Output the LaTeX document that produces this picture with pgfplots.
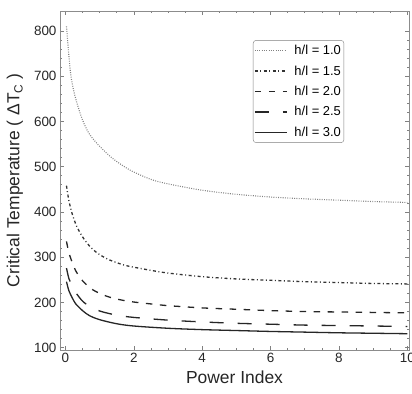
\documentclass[border=0pt]{standalone}
\usepackage{fontspec}
\setmainfont{Liberation Sans}
\usepackage{pgfplots}
\pgfplotsset{compat=1.18}
\begin{document}
\begin{tikzpicture}
\begin{axis}[
  name=ax,
  scale only axis,
  width=349bp, height=339bp,
  xmin=-0.16, xmax=10.05,
  ymin=95, ymax=844,
  xtick={0,2,4,6,8,10},
  ytick={100,200,...,800},
  minor x tick num=3,
  minor y tick num=4,
  major tick length=4bp,
  minor tick length=2.2bp,
  tick style={gray, line width=0.6bp},
  axis line style={gray!90, line width=0.8bp},
  /pgf/number format/assume math mode=true,
  ticklabel style={font=\fontsize{13.5}{14}\selectfont, text=black!85},
  xlabel={Power Index},
  ylabel={Critical Temperature ( ΔT\raisebox{-0.35ex}{\fontsize{12}{12}\selectfont C} )},
  label style={font=\fontsize{17.5}{19}\selectfont, text=black!85},
  xlabel style={at={(axis description cs:0.5,-0.08)}, anchor=center},
  ylabel style={at={(axis description cs:-0.129,0.5)}, anchor=center},
  legend style={at={(axis description cs:0.553,0.914)}, anchor=north west, draw=gray, rounded corners=3bp, font=\fontsize{13}{14}\selectfont, row sep=5.5bp, inner xsep=1bp, inner ysep=3bp},
  legend cell align=left,
  legend image code/.code={\draw[#1] (0bp,0bp) -- (32bp,0bp); \path (37bp,0bp);},
]
\addplot[smooth, color=black!50, line width=1.1bp, dash pattern=on 0.9bp off 1.4bp] coordinates {
(0.03,810) (0.1,745) (0.16,700) (0.25,665) (0.35,637) (0.5,603) (0.7,572) (1.0,545) (1.4,517) (1.9,492) (2.5,472) (3.0,462) (4.0,448) (5.0,439) (6.0,433) (7.0,429) (8.0,426) (9.0,423) (10,421)};
\addlegendentry{h/l = 1.0}
\addplot[smooth, color=black!80, line width=1.3bp, dash pattern=on 3bp off 2.5bp on 1bp off 2.5bp] coordinates {
(0.03,458) (0.1,425) (0.2,395) (0.33,368) (0.5,345) (0.7,325) (0.9,311) (1.2,297) (1.5,288) (1.8,281) (2.5,271) (3.0,265) (4.0,257) (5.0,252) (6.0,249) (7.0,246) (8.0,244) (9.0,242) (10,241)};
\addlegendentry{h/l = 1.5}
\addplot[smooth, color=black!85, line width=1.3bp, dash pattern=on 6.5bp off 7.5bp] coordinates {
(0.03,335) (0.1,310) (0.2,288) (0.3,270) (0.5,248) (0.8,228) (1.2,214) (1.6,206) (2.0,201) (2.6,196) (3.0,193) (4.0,188) (5.0,185) (6.0,182) (7.0,180) (8.0,179) (9.0,178) (10,177)};
\addlegendentry{h/l = 2.0}
\addplot[smooth, color=black!85, line width=1.3bp, dash pattern=on 14bp off 14bp] coordinates {
(0.03,276) (0.1,253) (0.2,236) (0.3,222) (0.5,203) (0.75,189) (1.05,180) (1.5,172) (2.0,167) (3.0,161) (4.0,157) (5.0,154) (6.0,152) (7.0,150) (8.0,149) (9.0,148) (10,147)};
\addlegendentry{h/l = 2.5}
\addplot[smooth, color=black!85, line width=1.3bp] coordinates {
(0.03,246) (0.1,226) (0.2,210) (0.3,197) (0.5,182) (0.7,171) (1.0,162) (1.5,153) (2.0,148) (3.0,143) (4.0,140) (5.0,138) (6.0,136) (7.0,134.5) (8.0,133) (9.0,132) (10,131)};
\addlegendentry{h/l = 3.0}
\end{axis}
\pgfresetboundingbox
\path[use as bounding box] ([xshift=-60bp,yshift=-44bp]ax.south west) rectangle ([xshift=3bp,yshift=11bp]ax.north east);
\end{tikzpicture}
\end{document}
